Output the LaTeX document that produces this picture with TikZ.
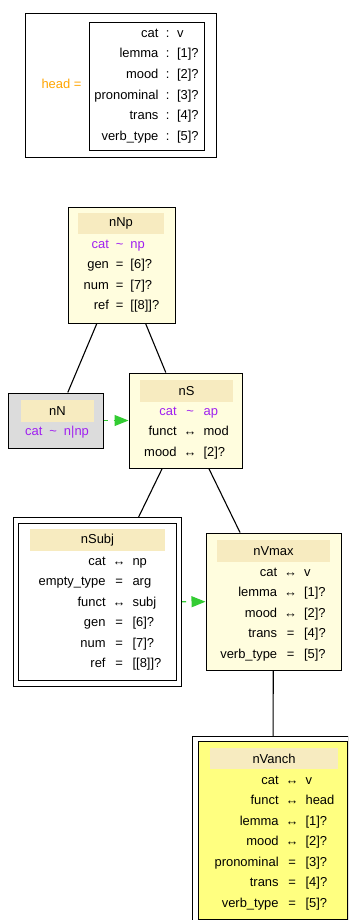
\documentclass[tikz,border=0pt]{standalone}
\usepackage{fontspec}
\setmainfont{Liberation Sans}
\usetikzlibrary{arrows.meta}
\definecolor{boxyellow}{HTML}{FFFDDE}
\definecolor{bandcol}{HTML}{F7EBC0}
\definecolor{greybox}{HTML}{DCDCDC}
\definecolor{anchyellow}{HTML}{FFFF80}
\definecolor{purp}{HTML}{A020F0}
\definecolor{orng}{HTML}{FFA500}
\definecolor{grn}{HTML}{33CC33}
\newcommand{\rowfont}{\fontsize{13}{20.6}\selectfont}
\newcommand{\pr}[1]{\textcolor{purp}{#1}}
\newcommand{\lr}{↔}
\begin{document}
\begin{tikzpicture}[x=1bp,y=-1bp,
  box/.style={draw=black, line width=1bp, rectangle, inner sep=0pt},
  dbox/.style={box, double=white, double distance=4.5bp, outer sep=3.2bp},
  band/.style={fill=bandcol, inner sep=0pt, font=\rowfont, text=black},
  rows/.style={anchor=north, inner sep=0pt, font=\rowfont},
  edge/.style={draw=black, line width=1.1bp},
  link/.style={draw=grn, line width=1.1bp, dash pattern=on 4bp off 6bp, -{Triangle[length=14bp,width=11bp,fill=grn]}}
]
\useasboundingbox (0,0) rectangle (348,920);
\clip (0,0) rectangle (348,920);
\fill[white] (0,0) rectangle (348,920);

% head box
\node[box, fill=white, minimum width=190bp, minimum height=144bp] (head) at (121,85) {};
\node[font=\rowfont, text=orng, inner sep=0pt] (headlbl) at (61.5,84) {head =};
\node[box, fill=white, minimum width=115bp, minimum height=128bp] (headin) at (146.5,86) {};
\node[rows] (headrows) at (146.5,22.9) {\begin{tabular}{@{}r@{\hspace{7.5bp}}c@{\hspace{7.5bp}}l@{}}
cat & : & v\\
lemma & : & [1]?\\
mood & : & [2]?\\
pronominal & : & [3]?\\
trans & : & [4]?\\
verb\_type & : & [5]?
\end{tabular}};

% nNp
\node[box, fill=boxyellow, minimum width=107bp, minimum height=116bp] (nNp) at (121.5,265) {};
\node[band, minimum width=86bp, minimum height=21bp] (nNpt) at (121,223.5) {nNp};
\node[rows] (nNpr) at (121.5,233.6) {\begin{tabular}{@{}r@{\hspace{7bp}}c@{\hspace{7bp}}l@{}}
\pr{cat} & \pr{\textasciitilde} & \pr{np}\\
gen & = & [6]?\\
num & = & [7]?\\
ref & = & [[8]]?
\end{tabular}};

% nN
\node[box, fill=greybox, minimum width=94bp, minimum height=55bp] (nN) at (56,420.5) {};
\node[band, minimum width=73bp, minimum height=22bp] (nNt) at (57.5,411) {nN};
\node[rows] (nNr) at (57,420.6) {\begin{tabular}{@{}r@{\hspace{7bp}}c@{\hspace{7bp}}l@{}}
\pr{cat} & \pr{\textasciitilde} & \pr{n\textbar np}
\end{tabular}};

% nS
\node[box, fill=boxyellow, minimum width=113bp, minimum height=95bp] (nS) at (185.5,420.5) {};
\node[band, minimum width=93bp, minimum height=22bp] (nSt) at (186.5,391) {nS};
\node[rows] (nSr) at (186.5,400.6) {\begin{tabular}{@{}r@{\hspace{7bp}}c@{\hspace{7bp}}l@{}}
\pr{cat} & \pr{\textasciitilde} & \pr{ap}\\
funct & \lr & mod\\
mood & \lr & [2]?
\end{tabular}};

% nSubj
\node[dbox, fill=white, minimum width=163bp, minimum height=163bp] (nSubj) at (97.5,602) {};
\node[band, minimum width=135bp, minimum height=22bp] (nSubjt) at (97.5,540) {nSubj};
\node[rows] (nSubjr) at (100,550.6) {\begin{tabular}{@{}r@{\hspace{7bp}}c@{\hspace{7bp}}l@{}}
cat & \lr & np\\
empty\_type & = & arg\\
funct & \lr & subj\\
gen & = & [6]?\\
num & = & [7]?\\
ref & = & [[8]]?
\end{tabular}};

% nVmax
\node[box, fill=boxyellow, minimum width=135bp, minimum height=137bp] (nVmax) at (273.5,601.5) {};
\node[band, minimum width=113bp, minimum height=22bp] (nVmaxt) at (273.5,551) {nVmax};
\node[rows] (nVmaxr) at (273,561.6) {\begin{tabular}{@{}r@{\hspace{7bp}}c@{\hspace{7bp}}l@{}}
cat & \lr & v\\
lemma & \lr & [1]?\\
mood & \lr & [2]?\\
trans & = & [4]?\\
verb\_type & = & [5]?
\end{tabular}};

% nVanch
\node[dbox, fill=anchyellow, minimum width=154.5bp, minimum height=183bp] (nVanch) at (272.75,830.5) {};
\node[band, minimum width=128bp, minimum height=21bp] (nVancht) at (274,758.5) {nVanch};
\node[rows] (nVanchr) at (274.5,769.6) {\begin{tabular}{@{}r@{\hspace{7bp}}c@{\hspace{7bp}}l@{}}
cat & \lr & v\\
funct & \lr & head\\
lemma & \lr & [1]?\\
mood & \lr & [2]?\\
pronominal & = & [3]?\\
trans & = & [4]?\\
verb\_type & = & [5]?
\end{tabular}};

% edges
\draw[edge] (nNp) -- (nN);
\draw[edge] (nNp) -- (nS);
\draw[edge] (nS) -- (nSubj);
\draw[edge] (nS) -- (nVmax);
\draw[edge] (nVmax) -- (nVanch);
\draw[link] (nN) -- (nS);
\draw[link] (nSubj) -- (nVmax);
\end{tikzpicture}
\end{document}
